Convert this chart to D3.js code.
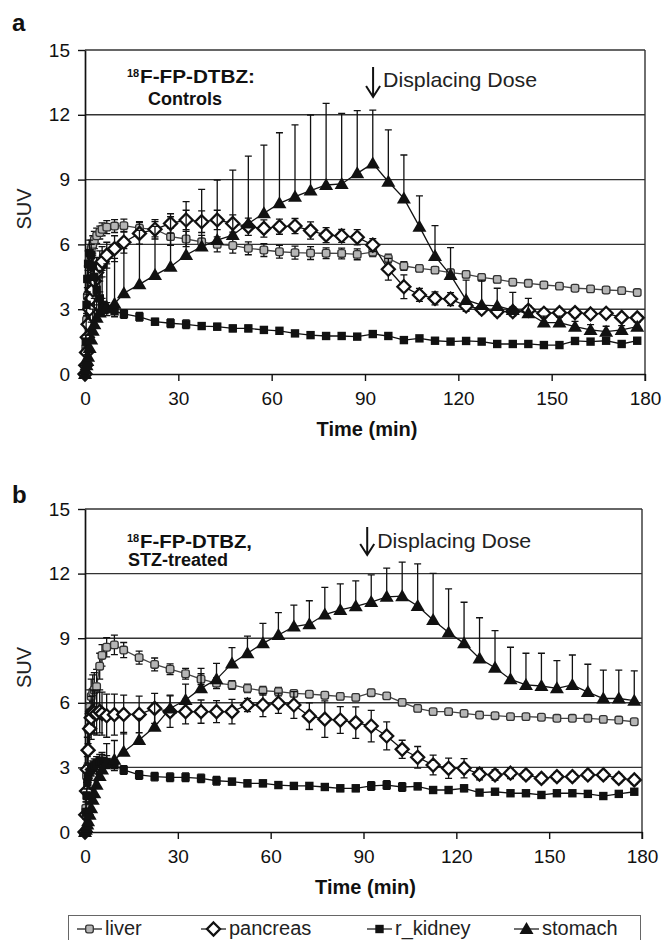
<!DOCTYPE html>
<html>
<head>
<meta charset="utf-8">
<script src="https://cdn.jsdelivr.net/npm/d3@7"></script>
<style>
body { margin: 0; background: #fff; }
svg { display: block; font-family: "Liberation Sans", Arial, sans-serif; }
</style>
</head>
<body>
<svg id="chart" width="663" height="940"></svg>
<script>
// frame mid-times (min), same for both studies
var times = [0, 0.25, 0.5, 0.75, 1, 1.5, 2, 2.5, 3, 3.75, 4.75, 5.5, 7, 9.5,
    12.5, 17.5, 22.5, 27.5, 32.5, 37.5, 42.5, 47.5, 52.5, 57.5,
    62.5, 67.5, 72.5, 77.5, 82.5, 87.5, 92.5, 97.5, 102.5, 107.5,
    112.5, 117.5, 122.5, 127.5, 132.5, 137.5, 142.5, 147.5, 152.5, 157.5,
    162.5, 167.5, 172.5, 177.5];
var seriesNames = ["liver", "pancreas", "r_kidney", "stomach"];
var xTicks = [0, 30, 60, 90, 120, 150, 180];
var yTicks = [0, 3, 6, 9, 12, 15];

// panel a: controls
var liverA = [0, 1.2, 2.5, 3.6, 4.4, 5.3, 5.8, 6.0, 6.2, 6.4, 6.55, 6.7, 6.8, 6.85,
    6.87, 6.75, 6.7, 6.36, 6.25, 6.12, 6.0, 5.95, 5.82, 5.74,
    5.66, 5.62, 5.6, 5.59, 5.58, 5.54, 5.64, 5.35, 5.0, 4.89,
    4.81, 4.69, 4.61, 4.47, 4.38, 4.25, 4.2, 4.12, 4.07, 3.97,
    3.94, 3.89, 3.86, 3.77];
var liverErrA = [0, 0.2, 0.3, 0.4, 0.4, 0.4, 0.4, 0.4, 0.4, 0.35, 0.3, 0.3, 0.3, 0.3,
    0.3, 0.3, 0.35, 0.4, 0.35, 0.3, 0.35, 0.35, 0.3, 0.3,
    0.3, 0.3, 0.3, 0.25, 0.25, 0.25, 0.2, 0.2, 0.2, 0.15,
    0.15, 0.15, 0.15, 0.15, 0.15, 0.15, 0.15, 0.15, 0.12, 0.12,
    0.12, 0.12, 0.12, 0.12];
var pancreasA = [0, 0.4, 1.0, 1.7, 2.3, 3.0, 3.5, 3.9, 4.3, 4.7, 5.0, 5.2, 5.5, 5.8,
    6.1, 6.51, 6.7, 6.97, 7.13, 7.05, 7.13, 6.97, 6.82, 6.74,
    6.82, 6.85, 6.64, 6.43, 6.39, 6.33, 5.97, 4.85, 4.04, 3.66,
    3.5, 3.47, 3.15, 3.0, 2.89, 2.89, 2.95, 2.81, 2.84, 2.84,
    2.78, 2.81, 2.62, 2.6];
var pancreasErrA = [0, 0.2, 0.3, 0.4, 0.5, 0.6, 0.6, 0.7, 0.7, 0.7, 0.7, 0.7, 0.6, 0.6,
    0.5, 0.5, 0.45, 0.45, 0.45, 0.5, 0.45, 0.4, 0.4, 0.4,
    0.35, 0.35, 0.4, 0.35, 0.3, 0.35, 0.3, 0.5, 0.55, 0.3,
    0.3, 0.3, 0.25, 0.2, 0.2, 0.2, 0.2, 0.2, 0.2, 0.2,
    0.15, 0.15, 0.15, 0.15];
var kidneyA = [0, 1.5, 3.2, 4.4, 5.1, 5.6, 5.5, 5.0, 4.5, 3.9, 3.5, 3.2, 3.0, 2.9,
    2.78, 2.65, 2.42, 2.35, 2.3, 2.22, 2.19, 2.11, 2.11, 2.04,
    2.0, 1.88, 1.8, 1.76, 1.76, 1.73, 1.85, 1.76, 1.57, 1.65,
    1.54, 1.5, 1.53, 1.5, 1.39, 1.39, 1.39, 1.34, 1.34, 1.53,
    1.5, 1.54, 1.39, 1.54];
var kidneyErrA = [0, 0.3, 0.5, 0.6, 0.6, 0.6, 0.5, 0.5, 0.4, 0.4, 0.3, 0.3, 0.3, 0.25,
    0.2, 0.2, 0.15, 0.2, 0.2, 0.15, 0.15, 0.15, 0.15, 0.15,
    0.15, 0.12, 0.12, 0.12, 0.12, 0.12, 0.12, 0.12, 0.1, 0.1,
    0.1, 0.1, 0.1, 0.1, 0.1, 0.1, 0.1, 0.1, 0.1, 0.1,
    0.1, 0.1, 0.1, 0.1];
var stomachA = [0, 0.2, 0.4, 0.6, 0.8, 1.2, 1.6, 2.0, 2.3, 2.6, 2.85, 3.0, 3.1, 3.25,
    3.74, 4.15, 4.58, 4.97, 5.51, 5.9, 6.2, 6.43, 6.97, 7.44,
    7.9, 8.21, 8.49, 8.75, 8.8, 9.29, 9.75, 8.9, 8.13, 6.82,
    5.46, 4.58, 3.43, 3.19, 3.15, 2.96, 2.81, 2.38, 2.38, 2.19,
    2.04, 1.96, 2.04, 2.19];
var stomachErrA = [0, 0.1, 0.2, 0.3, 0.4, 0.6, 0.8, 1.0, 1.2, 1.4, 1.6, 1.8, 2.0, 2.1,
    2.06, 2.5, 2.25, 2.31, 2.47, 2.65, 2.78, 3.01, 3.12, 3.16,
    3.27, 3.32, 3.5, 3.78, 3.27, 2.9, 2.47, 2.4, 2.01, 1.43,
    1.41, 1.27, 0.92, 1.16, 0.82, 0.82, 0.69, 0.3, 0.3, 0.25,
    0.25, 0.25, 0.2, 0.2];

// panel b: STZ-treated
var liverB = [0, 1.1, 2.6, 3.8, 4.8, 5.8, 6.3, 6.5, 6.6, 6.75, 7.7, 8.2, 8.58, 8.69,
    8.45, 8.1, 7.78, 7.56, 7.35, 7.1, 6.91, 6.83, 6.67, 6.56,
    6.52, 6.44, 6.4, 6.35, 6.3, 6.25, 6.47, 6.32, 6.02, 5.74,
    5.59, 5.59, 5.51, 5.43, 5.4, 5.36, 5.36, 5.33, 5.28, 5.28,
    5.28, 5.23, 5.2, 5.12];
var liverErrB = [0, 0.3, 0.5, 0.6, 0.7, 0.8, 0.8, 0.8, 0.8, 0.8, 0.6, 0.5, 0.45, 0.45,
    0.35, 0.3, 0.3, 0.25, 0.25, 0.25, 0.25, 0.2, 0.2, 0.2,
    0.2, 0.15, 0.15, 0.15, 0.15, 0.15, 0.15, 0.15, 0.15, 0.15,
    0.12, 0.12, 0.12, 0.12, 0.12, 0.12, 0.12, 0.12, 0.12, 0.12,
    0.12, 0.12, 0.12, 0.12];
var pancreasB = [0, 0.8, 1.9, 2.9, 3.8, 4.8, 5.3, 5.6, 5.55, 5.5, 5.6, 5.5, 5.4, 5.45,
    5.46, 5.46, 5.74, 5.59, 5.59, 5.59, 5.59, 5.59, 5.9, 5.9,
    5.98, 5.9, 5.38, 5.24, 5.2, 5.08, 4.92, 4.46, 3.84, 3.47,
    3.11, 2.96, 2.96, 2.69, 2.65, 2.73, 2.65, 2.49, 2.57, 2.57,
    2.65, 2.65, 2.49, 2.42];
var pancreasErrB = [0, 0.2, 0.4, 0.6, 0.8, 0.9, 1.0, 1.0, 1.0, 1.0, 1.0, 1.0, 1.0, 0.95,
    0.9, 0.85, 0.7, 0.73, 0.57, 0.54, 0.51, 0.57, 0.31, 0.54,
    0.47, 0.62, 0.62, 0.85, 0.62, 0.73, 0.73, 0.65, 0.42, 0.5,
    0.46, 0.47, 0.45, 0.27, 0.25, 0.25, 0.2, 0.2, 0.2, 0.2,
    0.2, 0.2, 0.2, 0.2];
var kidneyB = [0, 0.9, 1.7, 2.3, 2.6, 2.8, 2.9, 3.0, 3.1, 3.2, 3.3, 3.3, 3.25, 3.1,
    2.88, 2.65, 2.57, 2.54, 2.54, 2.49, 2.38, 2.34, 2.26, 2.26,
    2.18, 2.14, 2.14, 2.09, 2.03, 2.03, 2.14, 2.18, 2.09, 2.12,
    1.95, 1.95, 2.03, 1.83, 1.87, 1.8, 1.8, 1.72, 1.8, 1.8,
    1.77, 1.67, 1.77, 1.87];
var kidneyErrB = [0, 0.2, 0.3, 0.3, 0.3, 0.3, 0.3, 0.3, 0.3, 0.3, 0.3, 0.3, 0.3, 0.25,
    0.2, 0.2, 0.2, 0.2, 0.2, 0.2, 0.2, 0.15, 0.15, 0.15,
    0.15, 0.15, 0.15, 0.15, 0.15, 0.15, 0.2, 0.2, 0.2, 0.15,
    0.15, 0.15, 0.15, 0.12, 0.12, 0.12, 0.12, 0.12, 0.12, 0.12,
    0.12, 0.12, 0.12, 0.12];
var stomachB = [0, 0.1, 0.2, 0.35, 0.5, 0.8, 1.1, 1.5, 1.8, 2.2, 2.6, 2.9, 3.2, 3.35,
    3.73, 4.27, 4.89, 5.74, 6.13, 6.67, 7.09, 7.83, 8.3, 8.76,
    9.15, 9.54, 9.65, 10.1, 10.31, 10.48, 10.68, 10.92, 10.95, 10.5,
    9.85, 9.26, 8.76, 8.06, 7.63, 7.09, 6.83, 6.78, 6.67, 6.83,
    6.5, 6.2, 6.2, 6.1];
var stomachErrB = [0, 0.05, 0.1, 0.15, 0.2, 0.3, 0.4, 0.5, 0.6, 0.7, 0.8, 0.8, 0.9, 0.9,
    0.9, 1.0, 1.1, 0.62, 0.74, 0.93, 0.74, 0.73, 0.8, 0.93,
    1.04, 1.0, 1.09, 1.26, 1.21, 1.18, 1.26, 1.33, 1.58, 1.95,
    2.16, 2.03, 1.91, 1.89, 1.72, 1.49, 1.47, 1.52, 1.29, 1.39,
    1.29, 1.32, 1.32, 1.38];

var svg = d3.select("#chart");

// marker shapes, one per series
function drawMarker(sel, name) {
    if (name == "liver") {
        sel.append('rect').attr('x', -3.8).attr('y', -3.8).attr('width', 7.6).attr('height', 7.6)
            .attr('rx', 2).attr('fill', "#b5b5b5").attr('stroke', "#333").attr('stroke-width', 1.3);
    } else if (name == "pancreas") {
        sel.append('path').attr('d', "M0,-6.5L6.5,0L0,6.5L-6.5,0Z")
            .attr('fill', "#fff").attr('stroke', "#111").attr('stroke-width', 2.3);
    } else if (name == "r_kidney") {
        sel.append('rect').attr('x', -4.2).attr('y', -4.2).attr('width', 8.4).attr('height', 8.4)
            .attr('fill', "#111");
    } else {
        sel.append('path').attr('d', "M0,-7L7,5L-7,5Z").attr('fill', "#111");
    }
}

function makePanel(opts) {
    var x = d3.scaleLinear().domain([0, 180]).range([opts.left, opts.right]);
    var y = d3.scaleLinear().domain([0, 15]).range([opts.bottom, opts.top]);
    var root = svg.append('g');

    // gridlines + right border
    root.selectAll('line.grid').data(yTicks.filter(function (d) { return d > 0; }))
        .enter().append('line')
        .attr('class', "grid")
        .attr('x1', opts.left).attr('x2', opts.right)
        .attr('y1', function (d) { return y(d); }).attr('y2', function (d) { return y(d); })
        .attr('stroke', "#333").attr('stroke-width', 1.4);
    root.append('line')
        .attr('x1', opts.right).attr('x2', opts.right)
        .attr('y1', y(15)).attr('y2', y(0) + 7)
        .attr('stroke', "#333").attr('stroke-width', 1.4);

    var xAxis = root.append('g')
        .attr('transform', "translate(0," + y(0) + ")")
        .call(d3.axisBottom(x).tickValues(xTicks).tickSize(7).tickSizeOuter(0).tickPadding(11));
    var yAxis = root.append('g')
        .attr('transform', "translate(" + opts.left + ",0)")
        .call(d3.axisLeft(y).tickValues(yTicks).tickSize(7).tickSizeOuter(0).tickPadding(8));
    [xAxis, yAxis].forEach(function (ax) {
        ax.select('.domain').attr('stroke', "#111").attr('stroke-width', 1.7);
        ax.selectAll('.tick line').attr('stroke', "#111").attr('stroke-width', 1.4);
        ax.selectAll('text').attr('font-size', 19).attr('fill', "#111")
            .attr('font-family', "Liberation Sans, Arial, sans-serif");
    });

    // series: line, error bars, markers
    var line = d3.line()
        .x(function (d) { return x(d.t); })
        .y(function (d) { return y(d.v); });
    opts.series.forEach(function (s) {
        var pts = times.map(function (t, i) { return {t: t, v: s.values[i], e: s.errs[i]}; });
        var g = root.append('g');
        g.append('path')
            .attr('d', line(pts))
            .attr('fill', "none")
            .attr('stroke', s.name == "liver" ? "#444" : "#111")
            .attr('stroke-width', 1.3);
        var bars = g.selectAll('g.err').data(pts.filter(function (d) { return d.e > 0; }))
            .enter().append('g').attr('class', "err");
        bars.append('path')
            .attr('d', function (d) {
                var lo = s.dir == "plus" ? d.v : d.v - d.e;
                var hi = d.v + d.e;
                var px = x(d.t);
                var p = "M" + px + "," + y(lo) + "V" + y(hi) +
                    "M" + (px - 3.5) + "," + y(hi) + "H" + (px + 3.5);
                if (s.dir != "plus") {
                    p += "M" + (px - 3.5) + "," + y(lo) + "H" + (px + 3.5);
                }
                return p;
            })
            .attr('fill', "none")
            .attr('stroke', "#111")
            .attr('stroke-width', 1.3);
        g.selectAll('g.mark').data(pts)
            .enter().append('g').attr('class', "mark")
            .attr('transform', function (d) { return "translate(" + x(d.t) + "," + y(d.v) + ")"; })
            .each(function () { drawMarker(d3.select(this), s.name); });
    });

    // labels
    root.append('text')
        .text(opts.letter)
        .attr('x', 12).attr('y', opts.letterY)
        .attr('font-size', 24).attr('font-weight', "bold").attr('fill', "#111");
    root.append('text')
        .text("SUV")
        .attr('transform', "translate(31," + ((opts.top + opts.bottom) / 2 - 3) + ") rotate(-90)")
        .attr('text-anchor', "middle")
        .attr('font-size', 20).attr('fill', "#222");
    root.append('text')
        .text("Time (min)")
        .attr('x', (opts.left + opts.right) / 2 + 2).attr('y', y(0) + 62)
        .attr('text-anchor', "middle")
        .attr('font-size', 20).attr('font-weight', "bold").attr('fill', "#111");

    // tracer caption
    root.append('text')
        .text("18")
        .attr('x', 127).attr('y', opts.captionY - 6)
        .attr('font-size', 11).attr('font-weight', "bold").attr('fill', "#111");
    root.append('text')
        .text(opts.caption1)
        .attr('x', 140).attr('y', opts.captionY)
        .attr('textLength', opts.caption1Len).attr('lengthAdjust', "spacingAndGlyphs")
        .attr('font-size', 18).attr('font-weight', "bold").attr('fill', "#111");
    root.append('text')
        .text(opts.caption2)
        .attr('x', opts.caption2X).attr('y', opts.caption2Y)
        .attr('font-size', 18).attr('font-weight', "bold").attr('fill', "#111");

    // displacing dose arrow
    var ax0 = x(opts.doseTime);
    root.append('path')
        .attr('d', "M" + ax0 + "," + opts.arrowTop + "V" + opts.arrowBottom +
            "M" + (ax0 - 7) + "," + (opts.arrowBottom - 11) + "L" + ax0 + "," + opts.arrowBottom +
            "L" + (ax0 + 7) + "," + (opts.arrowBottom - 11))
        .attr('fill', "none").attr('stroke', "#111").attr('stroke-width', 2);
    root.append('text')
        .text("Displacing Dose")
        .attr('x', ax0 + 10).attr('y', opts.doseY)
        .attr('textLength', 154).attr('lengthAdjust', "spacingAndGlyphs")
        .attr('font-size', 21).attr('fill', "#222");
}

makePanel({
    left: 85, right: 645, top: 50, bottom: 374,
    letter: "a", letterY: 31,
    caption1: "F-FP-DTBZ:", caption1Len: 115, captionY: 83,
    caption2: "Controls", caption2X: 148, caption2Y: 105,
    doseTime: 92.6, arrowTop: 67, arrowBottom: 97, doseY: 87,
    series: [
        {name: "liver", values: liverA, errs: liverErrA, dir: "both"},
        {name: "pancreas", values: pancreasA, errs: pancreasErrA, dir: "both"},
        {name: "r_kidney", values: kidneyA, errs: kidneyErrA, dir: "both"},
        {name: "stomach", values: stomachA, errs: stomachErrA, dir: "plus"}
    ]
});

makePanel({
    left: 85, right: 642, top: 509, bottom: 832,
    letter: "b", letterY: 503,
    caption1: "F-FP-DTBZ,", caption1Len: 112, captionY: 548,
    caption2: "STZ-treated", caption2X: 128, caption2Y: 566,
    doseTime: 91.2, arrowTop: 527, arrowBottom: 555, doseY: 548,
    series: [
        {name: "liver", values: liverB, errs: liverErrB, dir: "both"},
        {name: "pancreas", values: pancreasB, errs: pancreasErrB, dir: "both"},
        {name: "r_kidney", values: kidneyB, errs: kidneyErrB, dir: "both"},
        {name: "stomach", values: stomachB, errs: stomachErrB, dir: "plus"}
    ]
});

// legend (box runs past the bottom edge as in the source)
var legend = svg.append('g');
legend.append('rect')
    .attr('x', 68.5).attr('y', 915.5).attr('width', 572).attr('height', 40)
    .attr('fill', "none").attr('stroke', "#666").attr('stroke-width', 1);
var legendX = [77, 201, 367, 514];
seriesNames.forEach(function (name, i) {
    var item = legend.append('g').attr('transform', "translate(" + legendX[i] + ",929)");
    item.append('line').attr('x1', 0).attr('x2', 25).attr('y1', 0).attr('y2', 0)
        .attr('stroke', "#222").attr('stroke-width', 1.3);
    drawMarker(item.append('g').attr('transform', "translate(12.5,0)"), name);
    item.append('text')
        .text(name)
        .attr('x', 28).attr('y', 6)
        .attr('font-size', 20).attr('fill', "#222");
});
</script>
</body>
</html>
